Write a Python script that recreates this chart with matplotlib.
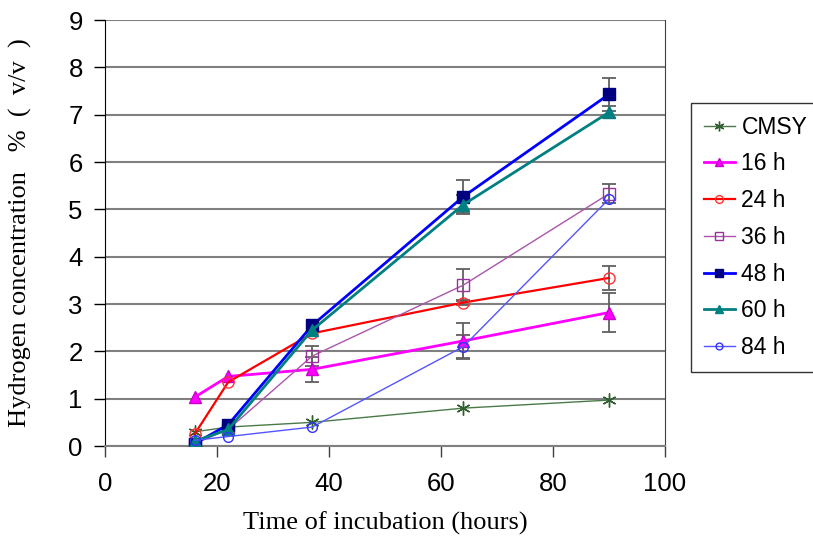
import matplotlib
matplotlib.use("Agg")
import matplotlib.pyplot as plt
import numpy as np

time_h = [16, 22, 37, 64, 90]
series_names = ["CMSY", "16 h", "24 h", "36 h", "48 h", "60 h", "84 h"]
cmsy = [0.30, 0.40, 0.50, 0.80, 0.97]
h16 = [1.03, 1.47, 1.62, 2.22, 2.82]
h24 = [0.25, 1.35, 2.38, 3.03, 3.55]
h36 = [0.05, 0.35, 1.90, 3.40, 5.33]
h48 = [0.05, 0.45, 2.55, 5.27, 7.43]
h60 = [0.10, 0.35, 2.45, 5.10, 7.05]
h84 = [0.12, 0.20, 0.40, 2.10, 5.22]

err_cmsy = [0, 0, 0, 0, 0]
err16 = [0, 0, 0.26, 0.38, 0.42]
err24 = [0, 0, 0, 0.05, 0.25]
err36 = [0, 0, 0.22, 0.33, 0.20]
err48 = [0, 0, 0, 0.35, 0.35]
err60 = [0, 0, 0, 0.20, 0.13]
err84 = [0, 0, 0, 0.25, 0]

plt.rcParams['font.family'] = ['Liberation Sans', 'DejaVu Sans']

fig = plt.figure(figsize=(8.13, 5.41), dpi=100)
ax = fig.add_axes([105/813, 1-446/541, 560/813, 426/541])

styles = [
    dict(color='#4a7a4a', lw=1.0, marker=(6, 2, 0), ms=10, mfc='#2f5f2f', mec='#2f5f2f', mew=1.0),
    dict(color='#ff00ff', lw=2.0, marker='^', ms=9, mfc='#ff00ff', mec='#cc00cc'),
    dict(color='#ff0000', lw=1.6, marker='o', ms=8, mfc='none', mec='#ff3333', mew=1.0),
    dict(color='#aa55aa', lw=1.0, marker='s', ms=8, mfc='none', mec='#993399', mew=1.0),
    dict(color='#0000ff', lw=2.0, marker='s', ms=9, mfc='#000080', mec='#000080'),
    dict(color='#008080', lw=2.0, marker='^', ms=9, mfc='#008080', mec='#008080'),
    dict(color='#5555ff', lw=1.0, marker='o', ms=7, mfc='none', mec='#3333ff', mew=1.0),
]
data = [cmsy, h16, h24, h36, h48, h60, h84]
errs = [err_cmsy, err16, err24, err36, err48, err60, err84]

for name, y, e, st in zip(series_names, data, errs, styles):
    e = np.array(e)
    mask = e > 0
    if mask.any():
        ax.errorbar(np.array(time_h)[mask], np.array(y)[mask], yerr=e[mask], fmt='none',
                    ecolor='#606060', elinewidth=1.3, capsize=5, capthick=1.3, zorder=2)
    ax.plot(time_h, y, label=name, zorder=3, **st)

ax.set_xlim(0, 100)
ax.set_ylim(0, 9)
ax.set_xticks(range(0, 101, 20))
ax.set_yticks(range(0, 10))
ax.yaxis.grid(True, color='#808080', lw=1.5)
ax.set_axisbelow(True)
ax.spines['top'].set_visible(False)
ax.spines['left'].set_color('black')
ax.spines['right'].set_color('#404040')
ax.spines['bottom'].set_color('#808080')
ax.spines['bottom'].set_linewidth(1.5)
ax.tick_params(axis='both', direction='out', length=8, width=1, labelsize=18.5, colors='black')
ax.tick_params(axis='x', pad=11, color='#404040')
ax.tick_params(axis='y', pad=8)

ax.set_xlabel("Time of incubation (hours)", family=['Liberation Serif'], fontsize=19, va='center')
ax.set_ylabel("Hydrogen concentration   %  (  v/v  )", family=['Liberation Serif'], fontsize=19, va='center')
ax.xaxis.set_label_coords(0.5, (446-523)/426)
ax.yaxis.set_label_coords((20-105)/560, 0.5)

leg = fig.legend(loc='upper left', bbox_to_anchor=(691/813, 1-103/541), fontsize=16.5,
                 frameon=True, fancybox=False, edgecolor='black', handlelength=1.35,
                 labelspacing=0.60, borderpad=0.55, handletextpad=0.3, markerscale=0.7,
                 borderaxespad=0)
leg.get_frame().set_linewidth(1.0)

fig.savefig("out.png", dpi=100)
